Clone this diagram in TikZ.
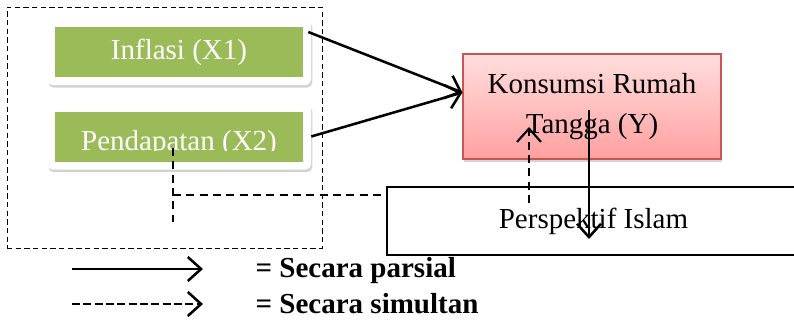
\documentclass[tikz,border=0pt]{standalone}
\usepackage{fontspec}
\setmainfont{Liberation Serif}
\usetikzlibrary{arrows.meta,shadows,calc}
\definecolor{G1}{RGB}{155,187,89}
\definecolor{R1}{RGB}{200,85,82}
\definecolor{R2}{RGB}{255,222,222}
\definecolor{R3}{RGB}{255,160,160}
\tikzset{
  panel/.style={fill=white, rounded corners=4pt, inner sep=0pt,
    drop shadow={shadow xshift=1pt, shadow yshift=-2pt, opacity=0.35},
    minimum width=198pt, minimum height=49.5pt},
  greenbox/.style={fill=G1, text=white, inner sep=0pt,
    minimum width=186pt, minimum height=37.5pt},
  ybox/.style={draw=R1, line width=0.9pt, top color=R2, bottom color=R3,
    drop shadow={shadow xshift=1pt, shadow yshift=-2pt, opacity=0.35},
    minimum width=193.5pt, minimum height=78.75pt, align=center, inner sep=0pt},
  islambox/.style={draw, line width=1.6pt, fill=white, inner sep=0pt,
    minimum width=310pt, minimum height=51pt},
  frame/.style={draw, line width=0.6pt, dash pattern=on 4pt off 2.5pt,
    minimum width=236.25pt, minimum height=180.75pt},
  tip/.style={-{Straight Barb[length=10pt,width=18pt]}},
  parline/.style={line width=1.9pt, tip},
  simline/.style={line width=1.6pt, dash pattern=on 6pt off 4pt},
}
\begin{document}
\begin{tikzpicture}[x=0.75pt, y=-0.75pt, font=\fontsize{21.75}{30}\selectfont]
  \useasboundingbox (0,0) rectangle (794,322);
  \node[frame] (outer) at (164.5,127.5) {};
  \node[panel] (inflasipanel) at (179,52) {};
  \node[greenbox] (inflasi) at (179,52) {Inflasi (X1)};
  \node[panel] (pendapatanpanel) at (179,136.5) {};
  \node[greenbox] (pendapatan) at (179,136.5) {};
  \begin{scope}
    \clip (55,113) rectangle (303,150);
    \node[anchor=base, text=white] (pendtext) at (179,150) {Pendapatan (X2)};
  \end{scope}
  \node[ybox] (konsumsi) at (592,106.5) {Konsumsi Rumah\\Tangga (Y)};
  \node[islambox] (islam) at (593.5,221) {Perspektif Islam};
  \coordinate (d1) at (173,148);
  \coordinate (d2) at (173,222);
  \coordinate (d3) at (173,195);
  \coordinate (u1) at (529,203);
  \coordinate (u2) at (529,127);
  \coordinate (s1) at (589,110);
  \coordinate (s2) at (589,239);
  \draw[parline] ($(inflasipanel.east)+(-3,-20)$) -- ($(konsumsi.west)+(0,-14)$);
  \draw[parline] (pendapatanpanel.east) -- ($(konsumsi.west)+(0,-14)$);
  \draw[simline] (d1) -- (d2);
  \draw[simline] (d3) -- (d3 -| islam.west);
  \draw[simline, tip] (u1) -- (u2);
  \draw[parline] (s1) -- (s2);
  \coordinate (p0) at (72,269);
  \coordinate (p1) at (203,269);
  \coordinate (q0) at (72,304);
  \coordinate (q1) at (203,304);
  \draw[parline] (p0) -- (p1);
  \draw[line width=1.9pt, dash pattern=on 6pt off 2.5pt, tip] (q0) -- (q1);
  \node[anchor=base west, font=\fontsize{21.75}{30}\selectfont\bfseries] (parsial) at (251,277) {= Secara parsial};
  \node[anchor=base west, font=\fontsize{21.75}{30}\selectfont\bfseries] (simultan) at (251,313) {= Secara simultan};
\end{tikzpicture}
\end{document}
